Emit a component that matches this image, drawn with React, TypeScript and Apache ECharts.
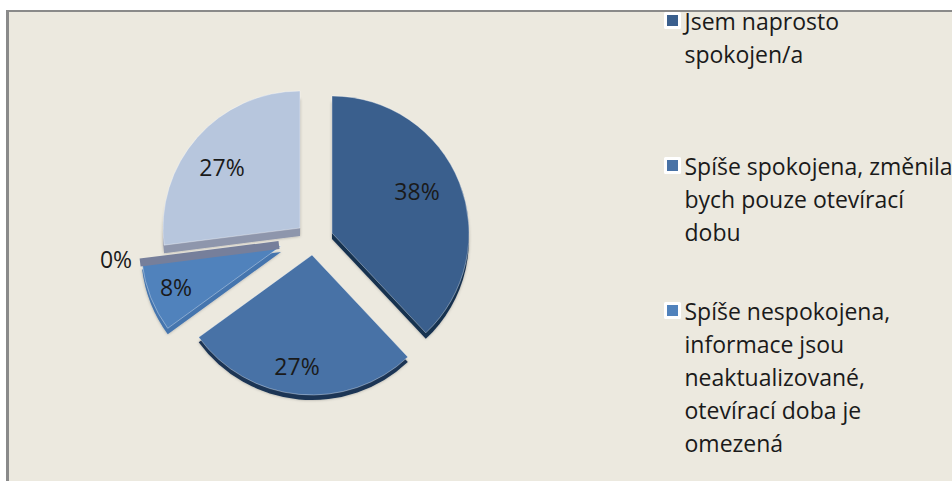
import React, { useEffect, useRef } from "react";
import * as echarts from "echarts";

const categories = [
  "Jsem naprosto spokojen/a",
  "Spíše spokojena, změnila bych pouze otevírací dobu",
  "Spíše nespokojena, informace jsou neaktualizované, otevírací doba je omezená",
  "Jiná odpověď A",
  "Jiná odpověď B",
];
const shares = [38, 27, 8, 0, 27];

const legendLines: Record<string, string[]> = {
  [categories[0]]: ["Jsem naprosto", "spokojen/a"],
  [categories[1]]: ["Spíše spokojena, změnila", "bych pouze otevírací", "dobu"],
  [categories[2]]: ["Spíše nespokojena,", "informace jsou", "neaktualizované,", "otevírací doba je", "omezená"],
};

const faceColors = ["#3A5F8D", "#4872A6", "#5082BC", "#767F9B", "#B7C6DD"];
const sideColors = ["#17304F", "#1B3554", "#4575AE", "#767F9B", "#8E96AC"];
const centers: [number, number][] = [
  [332, 233],
  [312, 255],
  [281, 246],
  [279, 245],
  [300, 228],
];
const radii = [137, 140, 140, 140, 137];
const depths = [6, 5, 6, 0, 8];
const labelSpots: [number, number][] = [
  [417, 191],
  [297, 366],
  [176, 287],
  [116, 259],
  [222, 167],
];
const legendCentres = [20.5, 165.5, 310.5];
const LINE = 33;

const FONT = "Open Sans";

function sliceSeries(k: number, side: boolean) {
  const isZero = shares[k] === 0;
  return {
    type: "pie",
    silent: true,
    name: (side ? "side-" : "face-") + k,
    z: side ? 1 : 2,
    startAngle: 90,
    clockwise: true,
    percentPrecision: 0,
    center: [centers[k][0], centers[k][1] + (side ? depths[k] : 0)],
    radius: [0, radii[k]],
    avoidLabelOverlap: false,
    labelLine: { show: false },
    labelLayout: side
      ? undefined
      : { x: labelSpots[k][0], y: labelSpots[k][1], align: "center", verticalAlign: "middle" },
    data: shares.map((v, i) => ({
      name: categories[i],
      value: v,
      label: {
        show: !side && i === k,
        position: "inside",
        formatter: "{d}%",
        color: "#1a1a1a",
        fontFamily: FONT,
        fontSize: 23,
      },
      itemStyle:
        i !== k
          ? { color: "transparent", borderWidth: 0 }
          : isZero
            ? { color: "transparent", borderColor: faceColors[k], borderWidth: 8, borderJoin: "bevel", borderCap: "butt" }
            : side
              ? { color: sideColors[k], borderWidth: 0, shadowBlur: 3, shadowColor: "rgba(0,0,0,0.3)" }
              : {
                  color: faceColors[k],
                  borderColor: "rgba(255,255,255,0.35)",
                  borderWidth: 1,
                },
    })),
  };
}

export default function App() {
  const ref = useRef<HTMLDivElement>(null);
  useEffect(() => {
    document.body.style.margin = "0";
    document.body.style.background = "#fff";
    const chart = echarts.init(ref.current!, undefined, { renderer: "svg" });
    const series: any[] = [];
    shares.forEach((_, k) => {
      if (depths[k] > 0) series.push(sliceSeries(k, true));
    });
    shares.forEach((_, k) => series.push(sliceSeries(k, false)));
    chart.setOption({
      animation: false,
      backgroundColor: "transparent",
      legend: legendCentres.map((centre, i) => {
        const lines = legendLines[categories[i]];
        const pad = lines.slice(1).map(() => " ");
        return {
          show: true,
          left: 664,
          top: centre - (LINE * (2 * lines.length - 1)) / 2,
          orient: "vertical",
          padding: 0,
          itemWidth: 14,
          itemHeight: 14,
          itemGap: 0,
          selectedMode: false,
          data: [
            {
              name: categories[i],
              icon: "rect",
              itemStyle: { color: faceColors[i], borderColor: "#fff", borderWidth: 3 },
            },
          ],
          formatter: () => pad.concat(lines).join("\n"),
          textStyle: { fontFamily: FONT, fontSize: 23, lineHeight: LINE, color: "#1a1a1a" },
        };
      }),
      series,
    });
    return () => chart.dispose();
  }, []);
  return (
    <div style={{ position: "relative", width: 952, height: 481, background: "#fff", overflow: "hidden" }}>
      <div
        style={{
          position: "absolute",
          left: 6,
          top: 10,
          right: 0,
          bottom: 0,
          background: "#ECE9DF",
          borderLeft: "3px solid #8a8a8a",
          borderTop: "2px solid #8a8a8a",
        }}
      />
      <div ref={ref} style={{ position: "absolute", left: 0, top: 0, width: 952, height: 481 }} />
    </div>
  );
}
